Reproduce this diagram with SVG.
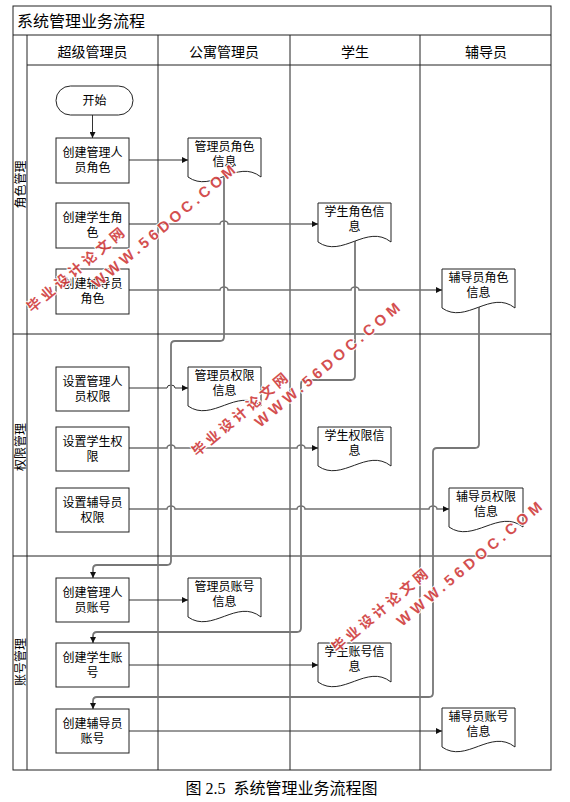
<svg xmlns="http://www.w3.org/2000/svg" width="570" height="802" viewBox="0 0 570 802">
<style>
text{font-family:"Liberation Sans","Noto Sans CJK SC",sans-serif;fill:#000}
.frame{fill:none;stroke:#222;stroke-width:1}
.box{fill:#fff;stroke:#222;stroke-width:1}
.t12{font-size:12px;text-anchor:middle}
.hdr{font-size:14px;text-anchor:middle}
.thin{fill:none;stroke:#333;stroke-width:1}
.grey{fill:none;stroke:#707070;stroke-width:1.5}
.vert{fill:none;stroke:#777;stroke-width:1.8}
.wm{font-weight:bold;fill:#d03c3c;stroke:#fff;stroke-width:2;paint-order:stroke fill;opacity:0.9}
</style>
<defs>
<marker id="arr" viewBox="0 0 6 6" refX="6" refY="3" markerWidth="6" markerHeight="6" markerUnits="userSpaceOnUse" orient="auto">
<path d="M0,0 L6,3 L0,6 Z" fill="#111"/>
</marker>
</defs>
<rect width="570" height="802" fill="#fff"/>
<g id="lanes">
<rect class="frame" x="13" y="6" width="538" height="764"/>
<line class="frame" x1="13" y1="35" x2="551" y2="35"/>
<line class="frame" x1="27" y1="65" x2="551" y2="65"/>
<line class="frame" x1="27" y1="35" x2="27" y2="770"/>
<line class="frame" x1="158" y1="35" x2="158" y2="770"/>
<line class="frame" x1="290" y1="35" x2="290" y2="770"/>
<line class="frame" x1="420" y1="35" x2="420" y2="770"/>
<line class="frame" x1="13" y1="334" x2="551" y2="334"/>
<line class="frame" x1="13" y1="556" x2="551" y2="556"/>
<text x="17" y="27" style="font-size:16px">系统管理业务流程</text>
<text class="hdr" x="92.5" y="56.5">超级管理员</text>
<text class="hdr" x="224" y="56.5">公寓管理员</text>
<text class="hdr" x="355" y="56.5">学生</text>
<text class="hdr" x="486" y="56.5">辅导员</text>
<text class="t12" transform="translate(24.5,184.5) rotate(-90)">角色管理</text>
<text class="t12" transform="translate(24.5,447) rotate(-90)">权限管理</text>
<text class="t12" transform="translate(24.5,662) rotate(-90)">账号管理</text>
</g>
<g id="connectors">
<line class="thin" x1="92.5" y1="115" x2="92.5" y2="138" marker-end="url(#arr)"/>
<path class="thin" d="M129,160 H188" marker-end="url(#arr)"/>
<path class="grey" d="M129,224 H220 a4,3 0 0 1 8,0 H318" marker-end="url(#arr)"/>
<path class="grey" d="M129,290 H220 a4,3 0 0 1 8,0 H351 a4,3 0 0 1 8,0 H442" marker-end="url(#arr)"/>
<path class="thin" d="M129,388 H167 a4,3 0 0 1 8,0 H188" marker-end="url(#arr)"/>
<path class="grey" d="M129,448 H167 a4,3 0 0 1 8,0 H297 a4,3 0 0 1 8,0 H318" marker-end="url(#arr)"/>
<path class="grey" d="M129,509 H167 a4,3 0 0 1 8,0 H297 a4,3 0 0 1 8,0 H429 a4,3 0 0 1 8,0 H449" marker-end="url(#arr)"/>
<path class="thin" d="M129,600 H188" marker-end="url(#arr)"/>
<path class="thin" d="M129,665 H318" marker-end="url(#arr)"/>
<path class="thin" d="M129,731 H442" marker-end="url(#arr)"/>
<path class="vert" d="M224,176 V337 Q224,341 220,341 H175 Q171,341 171,345 V561 Q171,565 167,565 H97 Q93,565 93,569 V578" marker-end="url(#arr)"/>
<path class="vert" d="M355,241 V376 Q355,380 351,380 H305 Q301,380 301,384 V628 Q301,632 297,632 H97 Q93,632 93,636 V643" marker-end="url(#arr)"/>
<path class="vert" d="M479,307 V444 Q479,448 475,448 H437 Q433,448 433,452 V693 Q433,697 429,697 H97 Q93,697 93,701 V709" marker-end="url(#arr)"/>
</g>
<g id="start">
<rect class="box" x="56" y="86" width="77" height="29" rx="14.5"/>
<text class="t12" x="94.5" y="105">开始</text>
</g>
<g id="create-admin-role">
<rect class="box" x="56" y="138" width="73" height="45"/>
<text class="t12" x="92.5" y="157">创建管理人<tspan x="92.5" dy="15">员角色</tspan></text>
</g>
<g id="create-student-role">
<rect class="box" x="56" y="203" width="73" height="45"/>
<text class="t12" x="92.5" y="222">创建学生角<tspan x="92.5" dy="15">色</tspan></text>
</g>
<g id="create-tutor-role">
<rect class="box" x="56" y="269" width="73" height="45"/>
<text class="t12" x="92.5" y="288">创建辅导员<tspan x="92.5" dy="15">角色</tspan></text>
</g>
<g id="set-admin-perm">
<rect class="box" x="56" y="367" width="73" height="44"/>
<text class="t12" x="92.5" y="386">设置管理人<tspan x="92.5" dy="15">员权限</tspan></text>
</g>
<g id="set-student-perm">
<rect class="box" x="56" y="427" width="73" height="44"/>
<text class="t12" x="92.5" y="446">设置学生权<tspan x="92.5" dy="15">限</tspan></text>
</g>
<g id="set-tutor-perm">
<rect class="box" x="56" y="488" width="73" height="44"/>
<text class="t12" x="92.5" y="507">设置辅导员<tspan x="92.5" dy="15">权限</tspan></text>
</g>
<g id="create-admin-acct">
<rect class="box" x="56" y="578" width="73" height="44"/>
<text class="t12" x="92.5" y="597">创建管理人<tspan x="92.5" dy="15">员账号</tspan></text>
</g>
<g id="create-student-acct">
<rect class="box" x="56" y="643" width="73" height="44"/>
<text class="t12" x="92.5" y="662">创建学生账<tspan x="92.5" dy="15">号</tspan></text>
</g>
<g id="create-tutor-acct">
<rect class="box" x="56" y="709" width="73" height="44"/>
<text class="t12" x="92.5" y="728">创建辅导员<tspan x="92.5" dy="15">账号</tspan></text>
</g>
<g id="doc-admin-role">
<path class="box" d="M188,138 H261 V177 C237,158 212,194 188,177 Z"/>
<text class="t12" x="224.5" y="151">管理员角色<tspan x="224.5" dy="15">信息</tspan></text>
</g>
<g id="doc-student-role">
<path class="box" d="M318,203 H391 V242 C367,223 342,259 318,242 Z"/>
<text class="t12" x="354.5" y="216">学生角色信<tspan x="354.5" dy="15">息</tspan></text>
</g>
<g id="doc-tutor-role">
<path class="box" d="M442,269 H515 V308 C491,289 466,325 442,308 Z"/>
<text class="t12" x="478.5" y="282">辅导员角色<tspan x="478.5" dy="15">信息</tspan></text>
</g>
<g id="doc-admin-perm">
<path class="box" d="M188,367 H261 V406 C237,387 212,423 188,406 Z"/>
<text class="t12" x="224.5" y="380">管理员权限<tspan x="224.5" dy="15">信息</tspan></text>
</g>
<g id="doc-student-perm">
<path class="box" d="M318,427 H391 V466 C367,447 342,483 318,466 Z"/>
<text class="t12" x="354.5" y="440">学生权限信<tspan x="354.5" dy="15">息</tspan></text>
</g>
<g id="doc-tutor-perm">
<path class="box" d="M449,488 H523 V527 C499,508 473,544 449,527 Z"/>
<text class="t12" x="486" y="501">辅导员权限<tspan x="486" dy="15">信息</tspan></text>
</g>
<g id="doc-admin-acct">
<path class="box" d="M188,578 H261 V617 C237,598 212,634 188,617 Z"/>
<text class="t12" x="224.5" y="591">管理员账号<tspan x="224.5" dy="15">信息</tspan></text>
</g>
<g id="doc-student-acct">
<path class="box" d="M318,643 H391 V682 C367,663 342,699 318,682 Z"/>
<text class="t12" x="354.5" y="656">学生账号信<tspan x="354.5" dy="15">息</tspan></text>
</g>
<g id="doc-tutor-acct">
<path class="box" d="M442,708 H515 V747 C491,728 466,764 442,747 Z"/>
<text class="t12" x="478.5" y="721">辅导员账号<tspan x="478.5" dy="15">信息</tspan></text>
</g>
<g id="watermark">
<text class="wm" transform="translate(32,313) rotate(-40)" style="font-size:14px" textLength="122" lengthAdjust="spacing">毕业设计论文网</text>
<text class="wm" transform="translate(97,289) rotate(-40)" style="font-size:15px" textLength="182" lengthAdjust="spacing">WWW.56DOC.COM</text>
<text class="wm" transform="translate(197,457) rotate(-40)" style="font-size:14px" textLength="120" lengthAdjust="spacing">毕业设计论文网</text>
<text class="wm" transform="translate(260,428) rotate(-40)" style="font-size:15px" textLength="184" lengthAdjust="spacing">WWW.56DOC.COM</text>
<text class="wm" transform="translate(337,653) rotate(-40)" style="font-size:14px" textLength="120" lengthAdjust="spacing">毕业设计论文网</text>
<text class="wm" transform="translate(402,627) rotate(-40)" style="font-size:15px" textLength="184" lengthAdjust="spacing">WWW.56DOC.COM</text>
</g>
<text x="281.5" y="794" style="font-size:16px;text-anchor:middle;font-family:'Liberation Serif','Noto Sans CJK SC',serif" xml:space="preserve">图 2.5  系统管理业务流程图</text>
</svg>
